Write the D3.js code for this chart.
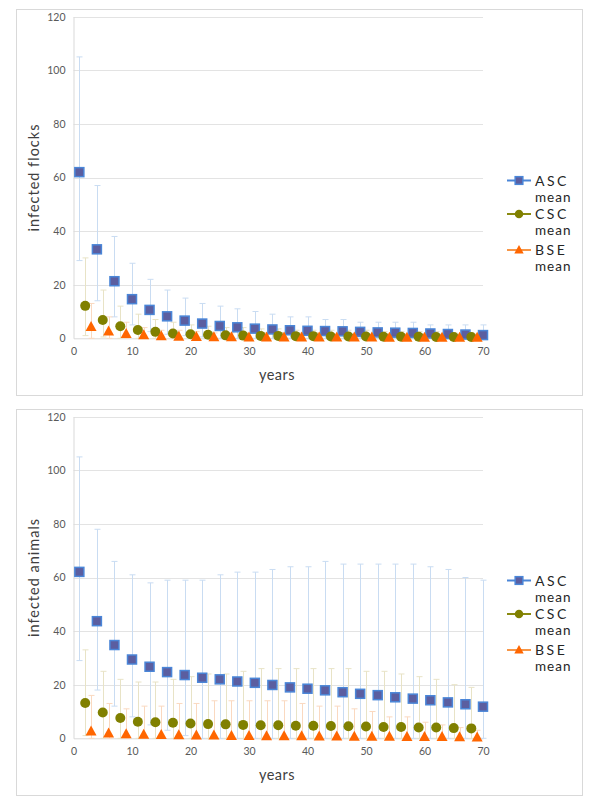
<!DOCTYPE html>
<html><head><meta charset="utf-8">
<script src="https://cdn.jsdelivr.net/npm/d3@7"></script>
<style>body{margin:0;background:#fff;} svg{display:block;}</style>
</head><body>
<script>
// ---- data ----
const ascYears = [1,4,7,10,13,16,19,22,25,28,31,34,37,40,43,46,49,52,55,58,61,64,67,70];
const cscYears = [2,5,8,11,14,17,20,23,26,29,32,35,38,41,44,47,50,53,56,59,62,65,68];
const bseYears = [3,6,9,12,15,18,21,24,27,30,33,36,39,42,45,48,51,54,57,60,63,66,69];
const xTicks = [0,10,20,30,40,50,60,70];
const yTicks = [0,20,40,60,80,100,120];
const seriesNames = ["ASC", "CSC", "BSE"];

// top chart: infected flocks
const flocksAscMean = [62,33.2,21.3,14.6,10.6,8.2,6.6,5.5,4.6,4.1,3.6,3.3,3.0,2.8,2.7,2.6,2.4,2.2,2.1,2.0,1.8,1.6,1.4,1.2];
const flocksAscUp   = [105,57,38,28,22,18,15,13,12,11,10,9,8,8,7,7,6,6,6,6,5,5,5,5];
const flocksAscLo   = [29,14,8,5,2.5,1.5,1,0.5,0,0,0,0,0,0,0,0,0,0,0,0,0,0,0,0];
const flocksCscMean = [12.1,6.8,4.5,3.1,2.4,1.8,1.5,1.3,1.1,1.0,0.9,0.9,0.8,0.8,0.7,0.7,0.7,0.6,0.6,0.6,0.5,0.5,0.5];
const flocksCscUp   = [30,18,12,9,7,6,5,4.5,4,4,3.5,3.5,3,3,3,3,3,2.5,2.5,2.5,2.5,2,2];
const flocksCscLo   = [1,0.5,0,0,0,0,0,0,0,0,0,0,0,0,0,0,0,0,0,0,0,0,0];
const flocksBseMean = [4.2,2.5,1.6,1.1,0.8,0.6,0.5,0.4,0.4,0.3,0.3,0.3,0.3,0.3,0.3,0.3,0.3,0.2,0.2,0.2,0.2,0.2,0.2];
const flocksBseUp   = [13,8,6,4,3,3,2.5,2,2,2,2,2,2,2,1.5,1.5,1.5,1.5,1.5,1.5,1.5,1.5,1.5];
const flocksBseLo   = [0,0,0,0,0,0,0,0,0,0,0,0,0,0,0,0,0,0,0,0,0,0,0];

// bottom chart: infected animals
const animalsAscMean = [62.1,43.7,34.8,29.4,26.7,24.7,23.6,22.6,22.0,21.2,20.7,19.9,19.0,18.5,17.9,17.2,16.6,16.1,15.3,14.8,14.2,13.4,12.7,11.8];
const animalsAscUp   = [105,78,66,61,58,59,59,59,61,62,62,63,64,64,66,65,65,65,65,65,64,63,60,59];
const animalsAscLo   = [29,18,12,8,5,3,1,0,0,0,0,0,0,0,0,0,0,0,0,0,0,0,0,0];
const animalsCscMean = [13.2,9.6,7.6,6.2,6.0,5.8,5.5,5.3,5.2,5.0,4.9,4.9,4.7,4.7,4.6,4.5,4.4,4.2,4.2,4.0,4.0,3.8,3.7];
const animalsCscUp   = [33,25,22,21,21,22,23,24,24,25,26,26,26,26,26,26,25,25,24,23,22,20,19];
const animalsCscLo   = [1,0,0,0,0,0,0,0,0,0,0,0,0,0,0,0,0,0,0,0,0,0,0];
const animalsBseMean = [2.5,1.8,1.5,1.3,1.2,1.1,1.0,1.0,0.9,0.9,0.8,0.8,0.8,0.7,0.7,0.6,0.6,0.6,0.5,0.5,0.5,0.4,0.3];
const animalsBseUp   = [16,13,11,12,12,13,13,14,14,14,14,14,13,12,12,11,10,8,8,6,5,4,3];
const animalsBseLo   = [0,0,0,0,0,0,0,0,0,0,0,0,0,0,0,0,0,0,0,0,0,0,0];

const W = 600, H = 800;
const svg = d3.select("body").append("svg").attr("width", W).attr("height", H);
const FONT = "Lato, 'Open Sans', 'Liberation Sans', sans-serif";

const styles = {
  ASC: {fill:"#5b5ea0", stroke:"#4a86d8", err:"#c9dcf2", line:"#4a86d8", shape:"square"},
  CSC: {fill:"#808000", stroke:"#808000", err:"#e8e3c6", line:"#8a8a10", shape:"circle"},
  BSE: {fill:"#ff6600", stroke:"#ff6600", err:"#fad9c0", line:"#f79646", shape:"triangle"}
};

function drawPanel(top, yTitle, series) {
  const g = svg.append("g").attr("transform", `translate(0,${top})`);
  g.append("rect").attr("x",16.5).attr("y",9.5).attr("width",566).attr("height",386)
    .attr("fill","#fff").attr("stroke","#d9d9d9").attr("stroke-width",1);

  const x = d3.scaleLinear().domain([0,70]).range([73.5,483]);
  const y = d3.scaleLinear().domain([0,120]).range([338.3,16.7]);

  // gridlines
  g.append("g").selectAll("line").data(yTicks.filter(t=>t>0)).join("line")
    .attr("x1",x(0)).attr("x2",x(70)).attr("y1",d=>Math.round(y(d))+0.5).attr("y2",d=>Math.round(y(d))+0.5)
    .attr("stroke","#e3e3e3");

  // axes
  const yAxis = g.append("g").attr("transform",`translate(${x(0)},0)`)
    .call(d3.axisLeft(y).tickValues(yTicks).tickSize(0).tickPadding(8));
  yAxis.select(".domain").attr("stroke","#d9d9d9");
  yAxis.selectAll("text").attr("font-family",FONT).attr("font-size",10.5).attr("fill","#595959");

  const xAxis = g.append("g").attr("transform",`translate(0,${y(0)})`)
    .call(d3.axisBottom(x).tickValues(xTicks).tickSize(0).tickPadding(9));
  xAxis.select(".domain").attr("stroke","#d9d9d9");
  xAxis.selectAll("text").attr("font-family",FONT).attr("font-size",10.5).attr("fill","#595959");

  // titles
  g.append("text").attr("x",277).attr("y",380).attr("text-anchor","middle")
    .attr("font-family",FONT).attr("font-size",14.5).attr("letter-spacing","0.5px")
    .attr("fill","#404040").text("years");
  g.append("text").attr("transform",`translate(39,${(y(0)+y(120))/2}) rotate(-90)`)
    .attr("text-anchor","middle").attr("font-family",FONT).attr("font-size",14.5)
    .attr("letter-spacing","1px").attr("fill","#404040").text(yTitle);

  // error bars
  series.forEach(s => {
    const st = styles[s.name];
    const eg = g.append("g");
    s.years.forEach((yr,i) => {
      const cx = Math.round(x(yr))+0.5;
      eg.append("line").attr("x1",cx).attr("x2",cx).attr("y1",y(s.lo[i])).attr("y2",y(s.up[i]))
        .attr("stroke",st.err).attr("stroke-width",1);
      [s.lo[i], s.up[i]].forEach(v => {
        eg.append("line").attr("x1",cx-3).attr("x2",cx+3).attr("y1",y(v)).attr("y2",y(v))
          .attr("stroke",st.err).attr("stroke-width",1);
      });
    });
  });

  // markers
  series.forEach(s => {
    const st = styles[s.name];
    const mg = g.append("g");
    s.years.forEach((yr,i) => drawMarker(mg, st, x(yr), y(s.mean[i]), 1));
  });

  // legend
  const legY = [180.5, 214, 250];
  series.forEach((s,i) => {
    const st = styles[s.name];
    const ly = legY[i];
    g.append("line").attr("x1",507).attr("x2",531).attr("y1",ly).attr("y2",ly)
      .attr("stroke",st.line).attr("stroke-width",2);
    drawMarker(g, st, 519, ly, 0.85);
    g.append("text").attr("x",535).attr("y",ly+5).attr("font-family",FONT).attr("font-size",14)
      .attr("letter-spacing","2.5px").attr("fill","#262626").text(s.name);
    g.append("text").attr("x",535).attr("y",ly+21).attr("font-family",FONT).attr("font-size",13.5)
      .attr("letter-spacing","1px").attr("fill","#262626").text("mean");
  });
}

function drawMarker(g, st, cx, cy, k) {
  if (st.shape === "square") {
    const s = 9*k;
    g.append("rect").attr("x",cx-s/2).attr("y",cy-s/2).attr("width",s).attr("height",s)
      .attr("fill",st.fill).attr("stroke",st.stroke).attr("stroke-width",1.5);
  } else if (st.shape === "circle") {
    g.append("circle").attr("cx",cx).attr("cy",cy).attr("r",5*k).attr("fill",st.fill);
  } else {
    const w = 11*k, h = 10*k;
    g.append("path").attr("d",`M${cx},${cy-h*0.6}L${cx+w/2},${cy+h*0.4}L${cx-w/2},${cy+h*0.4}Z`)
      .attr("fill",st.fill);
  }
}

drawPanel(0, "infected flocks", [
  {name:"ASC", years:ascYears, mean:flocksAscMean, up:flocksAscUp, lo:flocksAscLo},
  {name:"CSC", years:cscYears, mean:flocksCscMean, up:flocksCscUp, lo:flocksCscLo},
  {name:"BSE", years:bseYears, mean:flocksBseMean, up:flocksBseUp, lo:flocksBseLo}
]);
drawPanel(400, "infected animals", [
  {name:"ASC", years:ascYears, mean:animalsAscMean, up:animalsAscUp, lo:animalsAscLo},
  {name:"CSC", years:cscYears, mean:animalsCscMean, up:animalsCscUp, lo:animalsCscLo},
  {name:"BSE", years:bseYears, mean:animalsBseMean, up:animalsBseUp, lo:animalsBseLo}
]);
</script>
</body></html>
